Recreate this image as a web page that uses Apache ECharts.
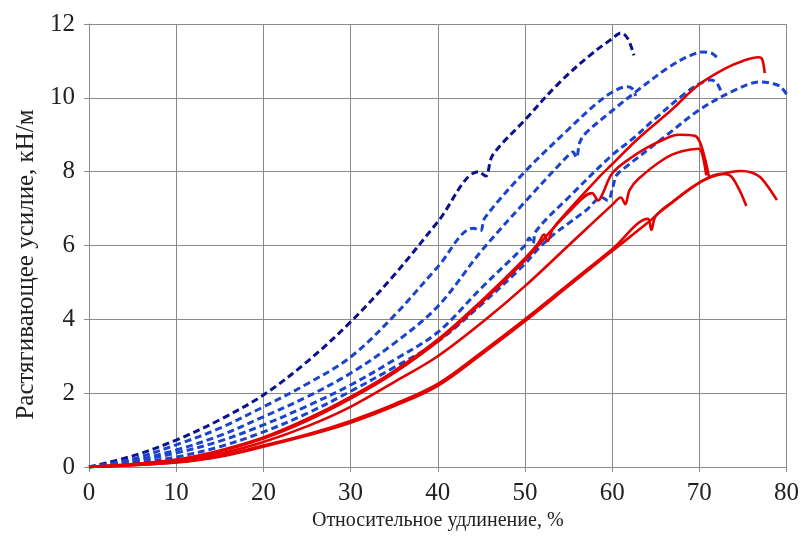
<!DOCTYPE html>
<html>
<head>
<meta charset="utf-8">
<script src="https://cdn.jsdelivr.net/npm/echarts@6/dist/echarts.min.js"></script>
<style>html,body{margin:0;padding:0;background:#fff}#c{width:802px;height:537px}</style>
</head>
<body>
<div id="c"></div>
<script>
// Axis ticks
const xTicks = [0, 10, 20, 30, 40, 50, 60, 70, 80];
const yTicks = [0, 2, 4, 6, 8, 10, 12];

// Dashed (blue) specimens: [elongation %, force kN/m]
const dashA = [[0,0],[5,0.3],[10,0.73],[15,1.28],[20,1.95],[25,2.85],[30,3.93],[35,5.2],[40,6.64],[44.7,8.0],[45.5,7.88],[46.3,8.45],[50,9.4],[53.9,10.4],[57.7,11.2],[60,11.6],[61,11.76],[61.8,11.6],[62.5,11.15]];
const dashB = [[0,0],[5,0.22],[10,0.6],[15,1.05],[20,1.63],[25,2.25],[30,2.98],[35,4.1],[40,5.42],[44.1,6.47],[44.9,6.4],[45.4,6.75],[50,8.0],[55,9.15],[58,9.8],[60,10.15],[61.7,10.3],[62.3,10.25],[62.7,10.05]];
const dashC = [[0,0],[5,0.17],[10,0.46],[15,0.85],[20,1.36],[25,1.9],[30,2.54],[35,3.35],[40,4.35],[45,5.85],[50,7.18],[55,8.45],[55.5,8.53],[55.9,8.38],[56.3,8.8],[57,9.05],[60,9.65],[62.7,10.16],[66.5,10.83],[69,11.15],[70.5,11.24],[71.5,11.2],[72.2,11.05]];
const dashD = [[0,0],[5,0.15],[10,0.38],[15,0.7],[20,1.14],[25,1.65],[30,2.22],[35,2.9],[40,3.65],[45,4.85],[50,6.0],[50.5,6.2],[50.9,6.05],[51.3,6.4],[55,7.3],[60,8.45],[62.2,8.86],[65,9.45],[68,10.05],[70,10.38],[71.3,10.48],[72,10.4],[72.6,10.1]];
const dashE = [[0,0],[5,0.1],[10,0.27],[15,0.55],[20,0.95],[25,1.45],[30,2.05],[35,2.7],[40,3.4],[45,4.4],[50,5.5],[51.4,5.88],[53.3,6.3],[55,6.6],[57,6.95],[58.8,7.3],[59.5,7.22],[60.1,7.6],[60.5,7.9],[61.6,8.13],[66,8.94],[70,9.67],[74,10.2],[77,10.43],[78.5,10.38],[79.3,10.3],[80,10.1]];

// Solid (red) specimens
const solidF = [[0,0],[5,0.08],[10,0.2],[15,0.45],[20,0.8],[25,1.3],[30,1.9],[35,2.6],[40,3.45],[45,4.5],[50,5.65],[51.5,6.05],[52.2,6.3],[52.6,6.12],[53.2,6.45],[55,6.95],[58.5,7.85],[60,8.2],[63,8.9],[66.8,9.67],[69.9,10.35],[73,10.8],[75,11.0],[76.8,11.1],[77.2,11.05],[77.5,10.67]];
const solidG = [[0,0],[5,0.08],[10,0.19],[15,0.42],[20,0.77],[25,1.25],[30,1.85],[35,2.55],[40,3.4],[45,4.45],[50,5.6],[53,6.4],[55,6.9],[57.7,7.42],[58.4,7.22],[58.9,7.4],[60,7.95],[62,8.35],[64,8.65],[66,8.88],[67.6,9.0],[69.5,8.97],[70.1,8.78],[70.7,8.3],[71.1,7.87]];
const solidH = [[0,0],[5,0.06],[10,0.16],[15,0.36],[20,0.68],[25,1.1],[30,1.63],[35,2.3],[40,3.0],[45,3.9],[50,4.9],[55,6.0],[60,7.1],[61,7.3],[61.5,7.12],[62,7.5],[63,7.8],[66,8.35],[68,8.55],[69.9,8.62],[70.3,8.5],[70.8,7.9]];
const solidI = [[0,0],[5,0.05],[10,0.12],[15,0.28],[20,0.55],[25,0.85],[30,1.2],[35,1.65],[40,2.2],[45,3.05],[50,3.95],[55,4.9],[60,5.85],[64,6.6],[66,7.0],[70,7.7],[72,7.9],[74.8,8.02],[76,7.98],[77,7.85],[78,7.55],[78.9,7.23]];
const solidJ = [[0,0],[5,0.05],[10,0.13],[15,0.3],[20,0.58],[25,0.88],[30,1.25],[35,1.7],[40,2.25],[45,3.1],[50,4.0],[55,4.95],[60,5.9],[64.1,6.72],[64.5,6.42],[65,6.8],[67,7.2],[70,7.7],[72.5,7.94],[73.5,7.9],[74.5,7.55],[75.4,7.07]];

const dashSeries = [dashA, dashB, dashC, dashD, dashE];
const dashColors = ['#0a1290', '#1a44cc', '#1a44cc', '#1a44cc', '#1a44cc'];
const solidSeries = [solidF, solidG, solidH, solidI, solidJ];

const chart = echarts.init(document.getElementById('c'), null, {renderer: 'canvas'});
const series = [];
dashSeries.forEach((d, i) => series.push({
  type: 'line', data: d, showSymbol: false, smooth: 0.35,
  lineStyle: {color: dashColors[i], width: 3, type: [7, 4]}, z: 2
}));
solidSeries.forEach(d => series.push({
  type: 'line', data: d, showSymbol: false, smooth: 0.35,
  lineStyle: {color: '#e30000', width: 2.6}, z: 3
}));

const font = 'Liberation Serif, Times New Roman, serif';
chart.setOption({
  animation: false,
  backgroundColor: '#fff',
  grid: {left: 89, right: 14, top: 24, bottom: 70, containLabel: false},
  xAxis: {
    type: 'value', min: xTicks[0], max: xTicks[xTicks.length-1], interval: 10,
    name: 'Относительное удлинение, %', nameLocation: 'middle', nameGap: 44,
    nameTextStyle: {fontFamily: font, fontSize: 20, color: '#222'},
    axisLine: {show: true, lineStyle: {color: '#8a8a8a', width: 1}},
    axisTick: {show: true, length: 5, lineStyle: {color: '#8a8a8a'}},
    axisLabel: {fontFamily: font, fontSize: 25, color: '#222', margin: 14},
    splitLine: {show: true, lineStyle: {color: '#8a8a8a', width: 1}}
  },
  yAxis: {
    type: 'value', min: yTicks[0], max: yTicks[yTicks.length-1], interval: 2,
    name: 'Растягивающее усилие, кН/м', nameLocation: 'middle', nameGap: 50,
    nameTextStyle: {fontFamily: font, fontSize: 25, color: '#222', padding: [0, 38, 0, 0]},
    axisLine: {show: true, lineStyle: {color: '#8a8a8a', width: 1}},
    axisTick: {show: true, length: 5, lineStyle: {color: '#8a8a8a'}},
    axisLabel: {fontFamily: font, fontSize: 25, color: '#222', margin: 14},
    splitLine: {show: true, lineStyle: {color: '#8a8a8a', width: 1}}
  },
  series: series
});
</script>
</body>
</html>
